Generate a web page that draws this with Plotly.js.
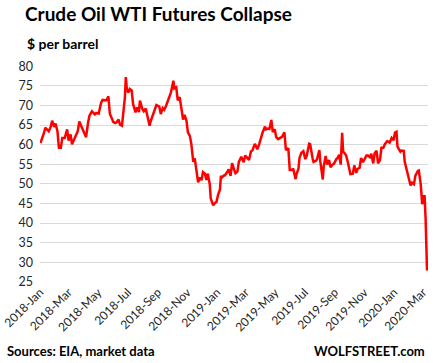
<!DOCTYPE html>
<html>
<head>
<meta charset="utf-8">
<script src="https://cdn.plot.ly/plotly-3.0.1.min.js"></script>
<style>html,body{margin:0;padding:0;background:#fff;}#chart{width:436px;height:363px;}</style>
</head>
<body>
<div id="chart"></div>
<script>
const dates = [
"2018-01-02","2018-01-05","2018-01-09","2018-01-12","2018-01-16","2018-01-19","2018-01-23","2018-01-26","2018-01-30",
"2018-02-02","2018-02-06","2018-02-09","2018-02-13","2018-02-16","2018-02-21","2018-02-26",
"2018-03-01","2018-03-05","2018-03-08","2018-03-12","2018-03-16","2018-03-20","2018-03-23","2018-03-28",
"2018-04-02","2018-04-06","2018-04-10","2018-04-13","2018-04-18","2018-04-24","2018-04-27",
"2018-05-02","2018-05-07","2018-05-10","2018-05-15","2018-05-18","2018-05-22","2018-05-25","2018-05-29",
"2018-06-01","2018-06-05","2018-06-08","2018-06-12","2018-06-15","2018-06-19","2018-06-22","2018-06-25","2018-06-27","2018-06-29",
"2018-07-02","2018-07-05","2018-07-09","2018-07-12","2018-07-17","2018-07-20","2018-07-24","2018-07-26","2018-07-31",
"2018-08-03","2018-08-07","2018-08-10","2018-08-15","2018-08-17","2018-08-21","2018-08-24","2018-08-29",
"2018-09-04","2018-09-07","2018-09-11","2018-09-14","2018-09-18","2018-09-21","2018-09-25","2018-09-28",
"2018-10-03","2018-10-05","2018-10-09","2018-10-12","2018-10-16","2018-10-19","2018-10-23","2018-10-26","2018-10-30",
"2018-11-02","2018-11-06","2018-11-09","2018-11-13","2018-11-16","2018-11-20","2018-11-23","2018-11-27","2018-11-30",
"2018-12-03","2018-12-07","2018-12-10","2018-12-13","2018-12-17","2018-12-19","2018-12-21","2018-12-24","2018-12-27","2018-12-31",
"2019-01-03","2019-01-07","2019-01-09","2019-01-11","2019-01-15","2019-01-17","2019-01-22","2019-01-25","2019-01-29",
"2019-02-01","2019-02-05","2019-02-08","2019-02-12","2019-02-15","2019-02-20","2019-02-25","2019-02-28",
"2019-03-05","2019-03-08","2019-03-12","2019-03-15","2019-03-20","2019-03-25","2019-03-29",
"2019-04-03","2019-04-05","2019-04-10","2019-04-12","2019-04-16","2019-04-19","2019-04-23","2019-04-26","2019-04-30",
"2019-05-03","2019-05-07","2019-05-10","2019-05-15","2019-05-20","2019-05-23","2019-05-28","2019-05-31",
"2019-06-04","2019-06-07","2019-06-12","2019-06-14","2019-06-18","2019-06-20","2019-06-24","2019-06-28",
"2019-07-02","2019-07-05","2019-07-10","2019-07-12","2019-07-17","2019-07-19","2019-07-24","2019-07-26","2019-07-31",
"2019-08-02","2019-08-07","2019-08-09","2019-08-13","2019-08-16","2019-08-20","2019-08-23","2019-08-27","2019-08-30",
"2019-09-04","2019-09-06","2019-09-10","2019-09-13","2019-09-16","2019-09-18","2019-09-20","2019-09-24","2019-09-27",
"2019-10-01","2019-10-03","2019-10-08","2019-10-11","2019-10-15","2019-10-18","2019-10-22","2019-10-25","2019-10-29",
"2019-11-01","2019-11-05","2019-11-08","2019-11-12","2019-11-15","2019-11-19","2019-11-22","2019-11-26","2019-11-29",
"2019-12-03","2019-12-06","2019-12-10","2019-12-13","2019-12-18","2019-12-23","2019-12-27","2019-12-31",
"2020-01-03","2020-01-06","2020-01-08","2020-01-10","2020-01-14","2020-01-16","2020-01-21","2020-01-23","2020-01-28","2020-01-31",
"2020-02-04","2020-02-07","2020-02-11","2020-02-14","2020-02-19","2020-02-21","2020-02-25","2020-02-27","2020-02-28",
"2020-03-02","2020-03-04","2020-03-06","2020-03-09"
];
const prices = [
60.4,61.4,62.9,64.3,63.7,63.4,64.5,66.1,64.5,
65.4,63.4,59.2,59.2,61.7,61.7,63.9,
61.0,62.6,60.1,61.4,62.3,63.5,65.9,64.4,
63.0,61.9,65.5,67.4,68.5,67.7,68.1,
67.9,70.7,71.4,71.3,71.3,72.3,67.9,66.7,
65.8,65.5,65.7,66.4,65.1,64.8,69.1,72.0,77.2,74.2,
73.3,74.2,73.8,70.3,68.2,69.5,68.3,71.2,69.1,
68.5,69.2,67.6,64.8,65.9,67.3,68.7,70.1,
69.7,67.8,69.3,68.9,69.9,70.8,72.3,73.3,
76.3,74.3,74.6,71.3,72.1,69.1,66.4,67.6,66.1,
63.1,62.2,60.2,55.6,56.5,53.3,50.4,51.6,50.9,
53.0,52.6,51.0,52.6,49.9,46.3,45.6,44.5,45.0,45.4,
47.1,48.5,52.0,51.6,52.1,52.1,53.0,53.7,52.0,
55.3,53.7,52.7,53.1,55.6,56.9,55.5,57.2,
56.6,56.1,58.3,58.5,60.2,58.8,60.1,
62.5,63.1,64.6,63.9,64.1,64.0,66.3,63.2,63.9,
61.9,61.4,61.6,62.0,63.1,58.6,59.1,53.5,
53.5,53.9,51.2,52.5,53.9,56.6,57.9,58.3,
56.3,57.2,60.2,60.1,56.5,55.6,55.9,56.2,58.6,
55.7,51.1,54.5,57.1,54.9,56.1,54.2,54.9,55.1,
56.3,56.5,57.4,54.9,63.0,58.1,58.0,57.3,55.9,
53.6,52.5,52.6,54.7,52.8,53.8,54.1,56.6,55.5,
56.2,57.2,57.2,56.8,57.7,55.2,57.8,58.4,55.2,
56.1,59.2,59.2,60.1,60.9,60.5,61.7,61.1,
63.1,63.3,59.6,59.0,58.2,58.5,58.4,55.6,53.5,51.6,
49.6,50.3,49.9,52.1,53.3,53.4,49.9,47.1,44.8,
46.8,46.8,41.3,27.9
];
const yTicks = [25,30,35,40,45,50,55,60,65,70,75,80];

const font = "Lato, 'Open Sans', sans-serif";
const trace = {
  x: dates, y: prices, type: 'scatter', mode: 'lines',
  line: {color: '#ff0000', width: 2.5}, hoverinfo: 'skip'
};
const layout = {
  width: 436, height: 363,
  margin: {l: 40, r: 8, t: 66, b: 81},
  paper_bgcolor: '#ffffff', plot_bgcolor: '#ffffff',
  showlegend: false,
  title: {
    text: '<b>Crude Oil WTI Futures Collapse</b>',
    font: {family: font, size: 19, color: '#000000'},
    xref: 'container', yref: 'container',
    x: 25/436, xanchor: 'left', y: 1 - 8/363, yanchor: 'top'
  },
  xaxis: {
    type: 'date', range: ['2018-01-01', '2020-03-11'],
    tickformat: '%Y-%b', dtick: 'M2', tick0: '2018-01-01',
    tickangle: -45, showgrid: false, zeroline: false, showline: false, ticks: '',
    tickfont: {family: font, size: 12, color: '#262626'}
  },
  yaxis: {
    range: [24.95, 80.05], tickvals: yTicks, ticktext: yTicks.map(String),
    showgrid: true, gridcolor: '#d9d9d9', gridwidth: 1,
    zeroline: false, showline: false, ticks: '',
    tickfont: {family: font, size: 12.5, color: '#262626'},
    ticklabelstandoff: 6
  },
  annotations: [
    {text: '<b>$ per barrel</b>', xref: 'paper', yref: 'paper',
     x: (25-40)/388, xanchor: 'left', y: 1 + (66-33)/216, yanchor: 'top',
     showarrow: false, font: {family: font, size: 14, color: '#000000'}},
    {text: '<b>Sources: EIA, market data</b>', xref: 'paper', yref: 'paper',
     x: (5-40)/388, xanchor: 'left', y: (282-341)/216, yanchor: 'top',
     showarrow: false, font: {family: font, size: 13, color: '#000000'}},
    {text: '<b>WOLFSTREET.com</b>', xref: 'paper', yref: 'paper',
     x: (427-40)/388, xanchor: 'right', y: (282-341)/216, yanchor: 'top',
     showarrow: false, font: {family: font, size: 13, color: '#000000'}}
  ]
};
Plotly.newPlot('chart', [trace], layout, {staticPlot: true, displayModeBar: false});
</script>
</body>
</html>
